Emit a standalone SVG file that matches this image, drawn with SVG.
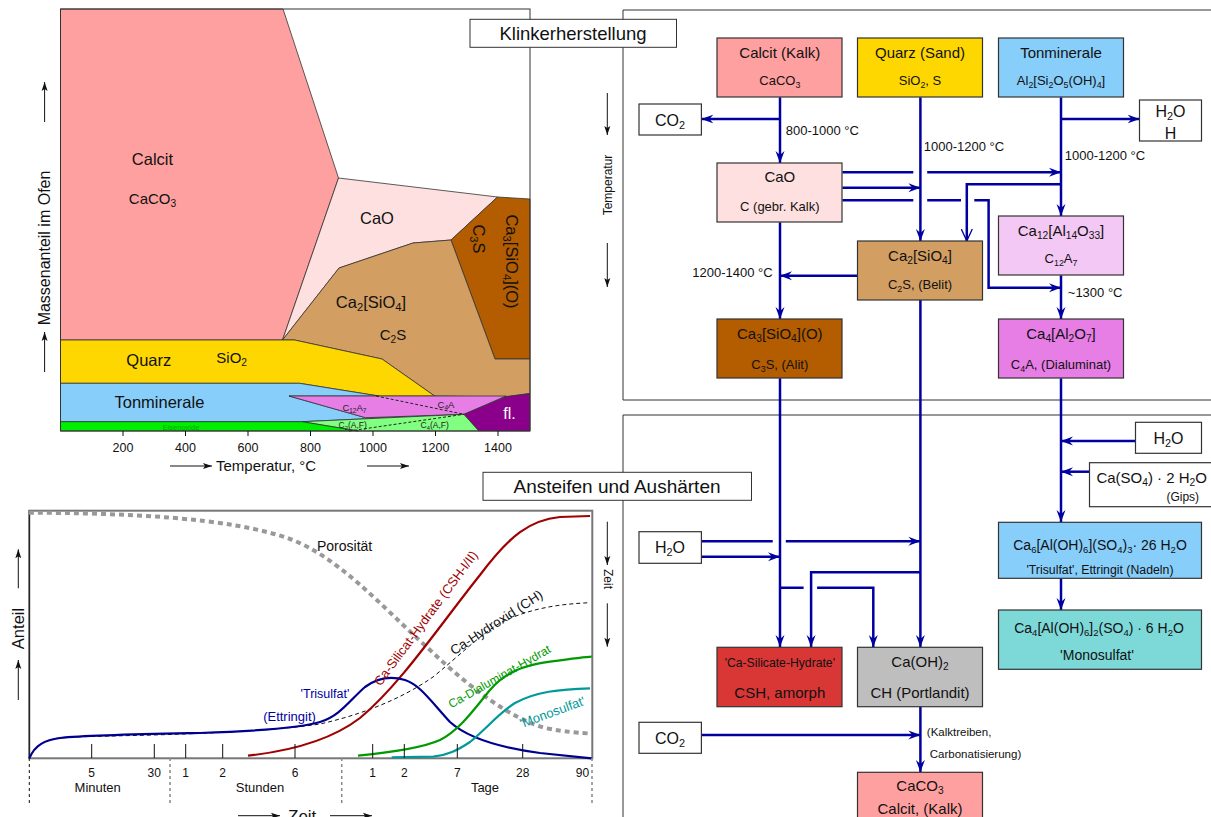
<svg xmlns="http://www.w3.org/2000/svg" width="1211" height="817" viewBox="0 0 1211 817">
<style>
text{font-family:"Liberation Sans",Arial,sans-serif;fill:#111}
.n{stroke:#333;stroke-width:1.2}
.c{fill:none;stroke:#0000A0;stroke-width:2.5}
.m{text-anchor:middle}
.f16{font-size:16.5px}
.f15{font-size:15px}
.f14{font-size:14px}
.f13{font-size:13px}
.f12{font-size:12px}
.sb{font-size:68%}
.reg{stroke:#333;stroke-width:0.8}
.frame{fill:none;stroke:#333;stroke-width:1}
.ax{stroke:#111;stroke-width:1;fill:none}
</style>
<defs>
<marker id="ah" markerWidth="14" markerHeight="10" refX="12" refY="5" orient="auto" markerUnits="userSpaceOnUse" viewBox="0 0 14 10"><path d="M0,0.5 L12,5 L0,9.5 L4,5 Z" fill="#0000A0"/></marker>
<marker id="av" markerWidth="14" markerHeight="12" refX="12" refY="6" orient="auto" markerUnits="userSpaceOnUse" viewBox="0 0 14 12"><path d="M0,0.5 L12,6 L0,11.5" fill="none" stroke="#0000A0" stroke-width="1.3"/></marker>
<marker id="ak" markerWidth="10" markerHeight="8" refX="9" refY="4" orient="auto" markerUnits="userSpaceOnUse" viewBox="0 0 10 8"><path d="M0,1 L9,4 L0,7 L2,4 Z" fill="#111"/></marker>
</defs>
<rect width="1211" height="817" fill="#fff"/>

<!-- ===== Top-left chart: Massenanteil im Ofen ===== -->
<g id="chart-klinker">
<path class="reg" fill="#FFA0A0" d="M60.5,9 L283,9 L338.5,178 L282.5,340 L60.5,340 Z"/>
<path class="reg" fill="#FFE0E0" d="M338.5,178 L497.5,197 L451,240 L413,243 L339,268 L282.5,340 Z"/>
<path class="reg" fill="#B35C00" d="M497.5,197 L530,199 L530,359 L495,359 L451,240 Z"/>
<path class="reg" fill="#D29E62" d="M282.5,340 L339,268 L413,243 L451,240 L495,359 L530,359 L530,393.5 L506,397 L434.6,396 L382,359 L294.5,340 Z"/>
<path class="reg" fill="#FFD700" d="M60.5,340 L294.5,340 L382,359 L434.6,396 L378.8,396 L299.6,383.3 L60.5,383.3 Z"/>
<path class="reg" fill="#87CEFA" d="M60.5,383.3 L299.6,383.3 L378.8,396 L289,396 L365.5,417.7 L464,414.3 L302,421.7 L60.5,421.7 Z"/>
<path class="reg" fill="#E67EE6" d="M289,396 L506,396 L464,414.3 L365.5,417.7 Z"/>
<path class="reg" fill="#80FF80" d="M302,421.7 L464,414.3 L479,431 L358.4,431 Z"/>
<path class="reg" fill="#00EE00" d="M60.5,421.7 L302,421.7 L358.4,431 L60.5,431 Z"/>
<path class="reg" fill="#8B008B" d="M464,414.3 L506,396.5 L530,393.5 L530,431 L479,431 Z"/>
<path d="M376,396 L464,414.3 M349,431 L464,414.3" fill="none" stroke="#222" stroke-width="1" stroke-dasharray="3,2"/>
<rect class="frame" x="60.5" y="9" width="469.5" height="422"/>
<path class="ax" d="M123,431V436M185.5,431V436M248,431V436M310.5,431V436M373,431V436M435.5,431V436M498,431V436"/>
<g text-anchor="middle" style="font-size:12.5px">
<text x="123" y="452">200</text><text x="185.5" y="452">400</text><text x="248" y="452">600</text><text x="310.5" y="452">800</text><text x="373" y="452">1000</text><text x="435.5" y="452">1200</text><text x="498" y="452">1400</text>
</g>
<text class="f15" x="216" y="471">Temperatur, °C</text>
<path class="ax" d="M170,466H212" marker-end="url(#ak)"/>
<path class="ax" d="M367,466H409" marker-end="url(#ak)"/>
<text class="m" transform="translate(44,248) rotate(-90)" y="6" style="font-size:16px">Massenanteil im Ofen</text>
<path class="ax" d="M44.6,122V82" marker-end="url(#ak)"/>
<path class="ax" d="M44.6,372V332" marker-end="url(#ak)"/>
<text class="f16 m" x="152.5" y="165">Calcit</text>
<text class="f15 m" x="152.5" y="204">CaCO<tspan class="sb" dy="3">3</tspan></text>
<text class="f16 m" x="377" y="224">CaO</text>
<text class="f16 m" transform="translate(478.6,239) rotate(90)" y="6">C<tspan class="sb" dy="3">3</tspan><tspan dy="-3">S</tspan></text>
<text class="f16 m" transform="translate(512,261.5) rotate(90)" y="6">Ca<tspan class="sb" dy="3">3</tspan><tspan dy="-3">[SiO</tspan><tspan class="sb" dy="3">4</tspan><tspan dy="-3">](O)</tspan></text>
<text class="f16 m" x="371" y="307.5">Ca<tspan class="sb" dy="3">2</tspan><tspan dy="-3">[SiO</tspan><tspan class="sb" dy="3">4</tspan><tspan dy="-3">]</tspan></text>
<text class="f15 m" x="393" y="339.5">C<tspan class="sb" dy="3">2</tspan><tspan dy="-3">S</tspan></text>
<text class="f16 m" x="148.8" y="365.5">Quarz</text>
<text class="f15 m" x="231.7" y="362.5">SiO<tspan class="sb" dy="3">2</tspan></text>
<text class="f16 m" x="159.4" y="408">Tonminerale</text>
<text class="m" x="509.6" y="418.5" style="font-size:16px;fill:#fff">fl.</text>
<text class="m" x="354.4" y="411" style="font-size:9.5px;fill:#222">C<tspan class="sb" dy="2">12</tspan><tspan dy="-2">A</tspan><tspan class="sb" dy="2">7</tspan></text>
<text class="m" x="446" y="408" style="font-size:9.5px;fill:#222">C<tspan class="sb" dy="2">4</tspan><tspan dy="-2">A</tspan></text>
<text class="m" x="352.7" y="428" style="font-size:8.5px;fill:#222">C<tspan class="sb" dy="2">2</tspan><tspan dy="-2">(A,F)</tspan></text>
<text class="m" x="434.7" y="428" style="font-size:8.5px;fill:#222">C<tspan class="sb" dy="2">4</tspan><tspan dy="-2">(A,F)</tspan></text>
<text class="m" x="181" y="429.5" style="font-size:7.5px;fill:#00A800">Eisenoxide</text>
</g>

<!-- ===== Bottom-left chart: Anteil vs Zeit ===== -->
<g id="chart-haerten">
<rect x="29.3" y="510.7" width="563" height="247.6" fill="none" stroke="#777" stroke-width="2"/>
<path d="M29.3,510.7V758.3" stroke="#111" stroke-width="1"/>
<path d="M29,512.7 C120,513 230,517 290,539 C340,558 380,605 430,650 C470,688 510,718 545,728 C565,732 580,733 590,733.5" fill="none" stroke="#999" stroke-width="4" stroke-dasharray="5,4"/>
<path d="M29.3,758.3 C35,742 50,738 70,737 L153,735 C220,733 280,730 320,724 C360,715 400,700 433,677 C460,655 480,635 500,623 C530,608 560,604 590,602.7" fill="none" stroke="#111" stroke-width="1" stroke-dasharray="4,3"/>
<path d="M248,755.7 C290,751 330,741 360,718 C400,685 440,625 480,575 C510,535 530,520 560,517 L590,516" fill="none" stroke="#A00000" stroke-width="2.2"/>
<path d="M29.3,758.3 C35,745 45,740 60,738 C90,735 150,734 200,733 C260,731 300,728 320,722 C340,716 350,700 365,687 C380,676 395,677 405,680 C420,685 430,700 450,722 C470,740 510,749 540,753 C560,755 580,757 591.7,758.3" fill="none" stroke="#000090" stroke-width="2.2"/>
<path d="M358,755.7 C385,753 420,749 440,740 C460,730 475,708 490,690 C505,672 525,665 550,661.7 C570,659 585,657 591.7,656.7" fill="none" stroke="#009900" stroke-width="2.2"/>
<path d="M391.7,757.3 L433.3,756.7 C448,755 458,750 470,742 C485,730 500,712 515,703 C535,692 560,689 590,688.3" fill="none" stroke="#009999" stroke-width="2.2"/>
<path class="ax" d="M91.7,744V758M154.3,744V758M185.7,744V758M222.7,744V758M295,744V758M372.7,744V758M404.3,744V758M457.3,744V758M522.7,744V758"/>
<path d="M29.3,758V805" stroke="#111" stroke-width="1" stroke-dasharray="3,3"/>
<path d="M170,758V805M341.7,758V805M592,758V805" stroke="#888" stroke-width="1.5" stroke-dasharray="3,3"/>
<g class="m f12">
<text x="91.7" y="777">5</text><text x="154.3" y="777">30</text><text x="185.7" y="777">1</text><text x="222.7" y="777">2</text><text x="295" y="777">6</text><text x="372.7" y="777">1</text><text x="404.3" y="777">2</text><text x="457.3" y="777">7</text><text x="522.7" y="777">28</text><text x="582.5" y="777">90</text>
</g>
<text class="m f13" x="97.7" y="791.5">Minuten</text>
<text class="m f13" x="260" y="791.5">Stunden</text>
<text class="m f13" x="485" y="791.5">Tage</text>
<text x="288" y="822" style="font-size:17px">Zeit</text>
<path class="ax" d="M238,815.7H280" marker-end="url(#ak)"/>
<path class="ax" d="M330,815.7H372" marker-end="url(#ak)"/>
<text class="m" transform="translate(18.3,628.5) rotate(-90)" y="6" style="font-size:16.5px">Anteil</text>
<path class="ax" d="M18.3,588.3V549.3" marker-end="url(#ak)"/>
<path class="ax" d="M18.3,700V660" marker-end="url(#ak)"/>
<text x="317" y="551" style="font-size:14px">Porosität</text>
<text class="m" transform="translate(431,622) rotate(-53.4)" y="-2" style="font-size:13px;fill:#A00000">Ca-Silicat-Hydrate (CSH-I/II)</text>
<text class="m" transform="translate(500,628) rotate(-33)" y="-2" style="font-size:13.5px">Ca-Hydroxid (CH)</text>
<text class="m" transform="translate(502,681) rotate(-29.5)" y="-1" style="font-size:12px;fill:#009900">Ca-Dialuminat-Hydrat</text>
<text class="m" transform="translate(552.5,712.5) rotate(-20)" y="4" style="font-size:13px;fill:#009999">'Monosulfat'</text>
<text class="m" x="325" y="698" style="font-size:12.5px;fill:#0000A0">'Trisulfat'</text>
<text class="m" x="289.5" y="720.5" style="font-size:13px;fill:#0000A0">(Ettringit)</text>
</g>

<!-- ===== Panel frames and side labels ===== -->
<g id="panels">
<path class="frame" d="M1211,10H623V400H1211"/>
<path class="frame" d="M1211,415H623V817"/>
<text class="m" transform="translate(608,185) rotate(-90)" y="4" style="font-size:12px">Temperatur</text>
<path class="ax" d="M607.3,93V135" marker-end="url(#ak)"/>
<path class="ax" d="M607.3,243V287" marker-end="url(#ak)"/>
<text class="m" transform="translate(608,579) rotate(90)" y="4" style="font-size:12px">Zeit</text>
<path class="ax" d="M607.3,521.7V565" marker-end="url(#ak)"/>
<path class="ax" d="M607.3,603.3V646.7" marker-end="url(#ak)"/>
</g>
<g id="title-klinker"><rect x="470" y="19.3" width="206.5" height="28" fill="#fff" stroke="#333" stroke-width="1"/><text class="m" x="573" y="40" style="font-size:18.5px">Klinkerherstellung</text></g>
<g id="title-haerten"><rect x="483" y="472.3" width="268.5" height="28" fill="#fff" stroke="#333" stroke-width="1"/><text class="m" x="617" y="493" style="font-size:19px">Ansteifen und Aushärten</text></g>

<!-- ===== Connectors ===== -->
<g id="connectors">
<path class="c" d="M780,97.3V163" marker-end="url(#ah)"/>
<path class="c" d="M780,119H701.4" marker-end="url(#ah)"/>
<path class="c" d="M920.4,97.3V241" marker-end="url(#ah)"/>
<path class="c" d="M1061,97.3V216" marker-end="url(#ah)"/>
<path class="c" d="M1061,119H1139.5" marker-end="url(#ah)"/>
<path class="c" d="M842.4,172.3H913.3M927.2,172.3H1061" marker-end="url(#ah)"/>
<path class="c" d="M842.4,187.7H920.4" marker-end="url(#ah)"/>
<path class="c" d="M842.4,200.3H913.3M927.2,200.3H961M974.3,200.3H988.6V287.7H1061" marker-end="url(#ah)"/>
<path class="c" d="M1061,184.3H966.8V241" marker-end="url(#av)"/>
<path class="c" d="M857.5,275.7H780" marker-end="url(#ah)"/>
<path class="c" d="M780,222.3V319" marker-end="url(#ah)"/>
<path class="c" d="M1061,275.3V319" marker-end="url(#ah)"/>
<path class="c" d="M780,378.3V647" marker-end="url(#ah)"/>
<path class="c" d="M920.4,300V647" marker-end="url(#ah)"/>
<path class="c" d="M1061,378.3V522" marker-end="url(#ah)"/>
<path class="c" d="M1135.5,441H1061" marker-end="url(#ah)"/>
<path class="c" d="M1089.5,471.7H1061" marker-end="url(#ah)"/>
<path class="c" d="M1061,578.3V610" marker-end="url(#ah)"/>
<path class="c" d="M701.4,541.3H772.7M785.8,541.3H920.4" marker-end="url(#ah)"/>
<path class="c" d="M701.4,556.7H780" marker-end="url(#ah)"/>
<path class="c" d="M920.4,572.3H811.1V647" marker-end="url(#ah)"/>
<path class="c" d="M780,587.7H803.6M817.1,587.7H873.3V647" marker-end="url(#ah)"/>
<path class="c" d="M701.4,735H920.4" marker-end="url(#ah)"/>
<path class="c" d="M920.4,706.7V772" marker-end="url(#ah)"/>
<text class="f13" x="785.8" y="135">800-1000 °C</text>
<text class="f13" x="923.8" y="150.5">1000-1200 °C</text>
<text class="f13" x="1064.8" y="160">1000-1200 °C</text>
<text class="f13" x="772.7" y="276.5" text-anchor="end">1200-1400 °C</text>
<text class="f13" x="1067.8" y="297">~1300 °C</text>
<text x="926.8" y="735.5" style="font-size:11.5px">(Kalktreiben,</text>
<text x="929.8" y="757.5" style="font-size:11.5px">Carbonatisierung)</text>
</g>

<!-- ===== Nodes ===== -->
<g id="n-calcit"><rect class="n" x="717" y="38" width="125" height="59" fill="#FFA0A0"/><text class="m f15" x="779.8" y="58">Calcit (Kalk)</text><text class="m f13" x="779.8" y="85">CaCO<tspan class="sb" dy="3">3</tspan></text></g>
<g id="n-quarz"><rect class="n" x="857.5" y="38" width="125" height="59" fill="#FFD700"/><text class="m f15" x="920" y="58">Quarz (Sand)</text><text class="m f13" x="920" y="85">SiO<tspan class="sb" dy="3">2</tspan><tspan dy="-3">, S</tspan></text></g>
<g id="n-ton"><rect class="n" x="998.5" y="38" width="125" height="59" fill="#87CEFA"/><text class="m f15" x="1061" y="58">Tonminerale</text><text class="m f13" x="1061" y="85">Al<tspan class="sb" dy="3">2</tspan><tspan dy="-3">[Si</tspan><tspan class="sb" dy="3">2</tspan><tspan dy="-3">O</tspan><tspan class="sb" dy="3">5</tspan><tspan dy="-3">(OH)</tspan><tspan class="sb" dy="3">4</tspan><tspan dy="-3">]</tspan></text></g>
<g id="n-co2a"><rect class="n" x="639" y="104" width="62.4" height="31" fill="#fff"/><text class="m" x="670" y="125.5" style="font-size:16px">CO<tspan class="sb" dy="3">2</tspan></text></g>
<g id="n-h2oa"><rect class="n" x="1139.5" y="100" width="62" height="41" fill="#fff"/><text class="m" x="1170.5" y="117" style="font-size:16px">H<tspan class="sb" dy="3">2</tspan><tspan dy="-3">O</tspan></text><text class="m" x="1170.5" y="139" style="font-size:16px">H</text></g>
<g id="n-cao"><rect class="n" x="717" y="163" width="125" height="59" fill="#FFE0E0"/><text class="m f15" x="779.8" y="182">CaO</text><text class="m f13" x="779.8" y="211">C (gebr. Kalk)</text></g>
<g id="n-belit"><rect class="n" x="857.5" y="241" width="125" height="59" fill="#D29E62"/><text class="m f15" x="920" y="261">Ca<tspan class="sb" dy="3">2</tspan><tspan dy="-3">[SiO</tspan><tspan class="sb" dy="3">4</tspan><tspan dy="-3">]</tspan></text><text class="m f13" x="920" y="289">C<tspan class="sb" dy="3">2</tspan><tspan dy="-3">S, (Belit)</tspan></text></g>
<g id="n-c12a7"><rect class="n" x="998.5" y="216" width="125" height="59" fill="#F4C8F4"/><text class="m f15" x="1061" y="236">Ca<tspan class="sb" dy="3">12</tspan><tspan dy="-3">[Al</tspan><tspan class="sb" dy="3">14</tspan><tspan dy="-3">O</tspan><tspan class="sb" dy="3">33</tspan><tspan dy="-3">]</tspan></text><text class="m f13" x="1061" y="263">C<tspan class="sb" dy="3">12</tspan><tspan dy="-3">A</tspan><tspan class="sb" dy="3">7</tspan></text></g>
<g id="n-alit"><rect class="n" x="717" y="319" width="125" height="59" fill="#B35C00"/><text class="m f15" x="779.8" y="339">Ca<tspan class="sb" dy="3">3</tspan><tspan dy="-3">[SiO</tspan><tspan class="sb" dy="3">4</tspan><tspan dy="-3">](O)</tspan></text><text class="m f13" x="779.8" y="369">C<tspan class="sb" dy="3">3</tspan><tspan dy="-3">S, (Alit)</tspan></text></g>
<g id="n-c4a"><rect class="n" x="998.5" y="319" width="125" height="59" fill="#E67EE6"/><text class="m f15" x="1061" y="339">Ca<tspan class="sb" dy="3">4</tspan><tspan dy="-3">[Al</tspan><tspan class="sb" dy="3">2</tspan><tspan dy="-3">O</tspan><tspan class="sb" dy="3">7</tspan><tspan dy="-3">]</tspan></text><text class="m f13" x="1061" y="369">C<tspan class="sb" dy="3">4</tspan><tspan dy="-3">A, (Dialuminat)</tspan></text></g>
<g id="n-h2ob"><rect class="n" x="1135.5" y="422.3" width="66" height="31" fill="#fff"/><text class="m" x="1168.5" y="443.5" style="font-size:16px">H<tspan class="sb" dy="3">2</tspan><tspan dy="-3">O</tspan></text></g>
<g id="n-gips"><rect class="n" x="1089.5" y="462.7" width="130" height="44" fill="#fff"/><text class="m f15" x="1151.7" y="483">Ca(SO<tspan class="sb" dy="3">4</tspan><tspan dy="-3">) · 2 H</tspan><tspan class="sb" dy="3">2</tspan><tspan dy="-3">O</tspan></text><text class="m f12" x="1182.8" y="501">(Gips)</text></g>
<g id="n-trisulfat"><rect class="n" x="998.5" y="522.3" width="203" height="56" fill="#87CEFA"/><text class="m f14" x="1100" y="549.5">Ca<tspan class="sb" dy="3">6</tspan><tspan dy="-3">[Al(OH)</tspan><tspan class="sb" dy="3">6</tspan><tspan dy="-3">](SO</tspan><tspan class="sb" dy="3">4</tspan><tspan dy="-3">)</tspan><tspan class="sb" dy="3">3</tspan><tspan dy="-3">· 26 H</tspan><tspan class="sb" dy="3">2</tspan><tspan dy="-3">O</tspan></text><text class="m" x="1100" y="573.5" style="font-size:12.3px">'Trisulfat', Ettringit (Nadeln)</text></g>
<g id="n-monosulfat"><rect class="n" x="998.5" y="610" width="203" height="59.3" fill="#7DD8D8"/><text class="m f14" x="1099" y="632.5">Ca<tspan class="sb" dy="3">4</tspan><tspan dy="-3">[Al(OH)</tspan><tspan class="sb" dy="3">6</tspan><tspan dy="-3">]</tspan><tspan class="sb" dy="3">2</tspan><tspan dy="-3">(SO</tspan><tspan class="sb" dy="3">4</tspan><tspan dy="-3">) · 6 H</tspan><tspan class="sb" dy="3">2</tspan><tspan dy="-3">O</tspan></text><text class="m f14" x="1097" y="660">'Monosulfat'</text></g>
<g id="n-h2oc"><rect class="n" x="639" y="531.7" width="62.4" height="31.6" fill="#fff"/><text class="m" x="670" y="553" style="font-size:16px">H<tspan class="sb" dy="3">2</tspan><tspan dy="-3">O</tspan></text></g>
<g id="n-csh"><rect class="n" x="717" y="647.3" width="125" height="59.4" fill="#D93636"/><text class="m" x="779.8" y="667" style="font-size:12.2px">'Ca-Silicate-Hydrate'</text><text class="m f15" x="779.8" y="698">CSH, amorph</text></g>
<g id="n-ch"><rect class="n" x="857.5" y="647.3" width="125" height="59.4" fill="#BEBEBE"/><text class="m f15" x="920" y="667">Ca(OH)<tspan class="sb" dy="3">2</tspan></text><text class="m f15" x="920" y="698">CH (Portlandit)</text></g>
<g id="n-co2b"><rect class="n" x="639" y="722.3" width="62.4" height="31" fill="#fff"/><text class="m" x="670" y="743.5" style="font-size:16px">CO<tspan class="sb" dy="3">2</tspan></text></g>
<g id="n-caco3"><rect class="n" x="857.5" y="772.3" width="125" height="60" fill="#FFA0A0"/><text class="m f15" x="920" y="791">CaCO<tspan class="sb" dy="3">3</tspan></text><text class="m f15" x="920" y="814">Calcit, (Kalk)</text></g>
</svg>
